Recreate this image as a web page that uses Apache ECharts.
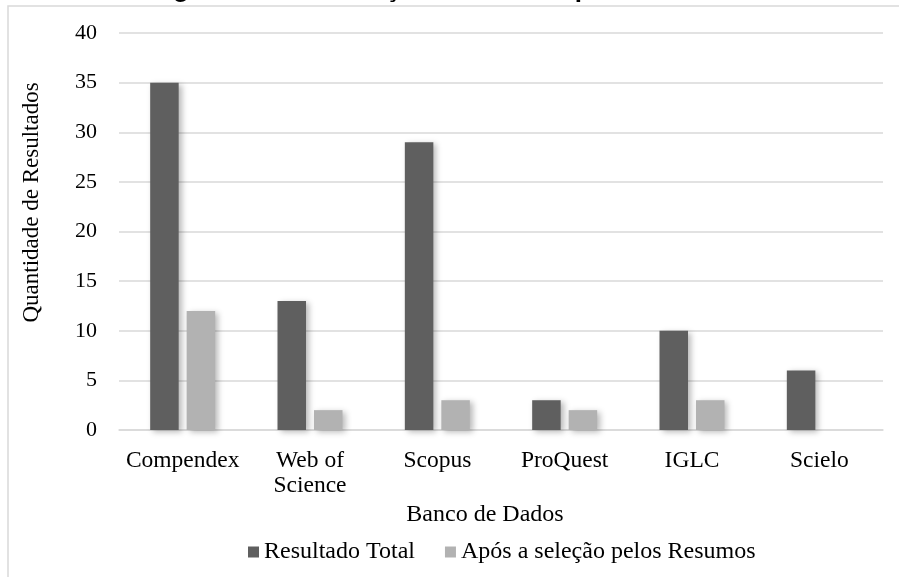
<!DOCTYPE html>
<html>
<head>
<meta charset="utf-8">
<script src="https://cdn.jsdelivr.net/npm/echarts@6/dist/echarts.min.js"></script>
<style>
  html, body { margin: 0; padding: 0; background: #fff; }
  #chart { width: 899px; height: 577px; }
</style>
</head>
<body>
<div id="chart"></div>
<script>
// Databases searched
const categories = ['Compendex', 'Web of\nScience', 'Scopus', 'ProQuest', 'IGLC', 'Scielo'];
// Number of results per database
const totalResults = [35, 13, 29, 3, 10, 6];
const afterAbstracts = [12, 2, 3, 2, 3, 0];
// Value axis ticks
const yMin = 0, yMax = 40, yStep = 5;

const serif = "'Liberation Serif', 'Times New Roman', serif";
const chart = echarts.init(document.getElementById('chart'));

const barShadow = {
  shadowColor: 'rgba(0,0,0,0.28)',
  shadowBlur: 6,
  shadowOffsetX: 3,
  shadowOffsetY: 2
};

chart.setOption({
  backgroundColor: '#ffffff',
  animation: false,
  graphic: [
    {
      type: 'rect',
      shape: { x: 8, y: 6, width: 900, height: 600 },
      style: { fill: 'none', stroke: '#d9d9d9', lineWidth: 1.5 },
      silent: true,
      z: 1
    },
    {
      type: 'text',
      x: 150,
      y: -10,
      style: {
        text: 'Figura 4 – Distribuição dos dados por Banco de Dados',
        font: "bold 26px 'Liberation Sans', Arial, sans-serif",
        fill: '#000',
        verticalAlign: 'middle'
      },
      silent: true,
      z: 2
    }
  ],
  grid: { left: 119, right: 16, top: 33, bottom: 147 },
  legend: {
    left: 243,
    top: 535,
    itemWidth: 11,
    itemHeight: 11,
    itemGap: 30,
    icon: 'rect',
    textStyle: { fontFamily: serif, fontSize: 24, color: '#000' }
  },
  xAxis: {
    type: 'category',
    data: categories,
    name: 'Banco de Dados',
    nameLocation: 'middle',
    nameGap: 68,
    nameTextStyle: { fontFamily: serif, fontSize: 24, color: '#000', padding: [0, 32, 0, 0] },
    axisLine: { lineStyle: { color: '#d9d9d9', width: 1.5 } },
    axisTick: { show: false },
    axisLabel: { interval: 0, fontFamily: serif, fontSize: 23.5, color: '#000', margin: 18, lineHeight: 25 }
  },
  yAxis: {
    type: 'value',
    min: yMin,
    max: yMax,
    interval: yStep,
    name: 'Quantidade de Resultados',
    nameLocation: 'middle',
    nameGap: 76,
    nameTextStyle: { fontFamily: serif, fontSize: 23, color: '#000', padding: [0, 0, 0, 58] },
    axisLine: { show: false },
    axisTick: { show: false },
    axisLabel: { fontFamily: serif, fontSize: 22, color: '#000', margin: 22 },
    splitLine: { lineStyle: { color: '#d9d9d9', width: 1.5 } }
  },
  series: [
    {
      name: 'Resultado Total',
      type: 'bar',
      data: totalResults,
      barWidth: 28.5,
      barGap: '28%',
      itemStyle: Object.assign({ color: '#5f5f5f' }, barShadow)
    },
    {
      name: 'Após a seleção pelos Resumos',
      type: 'bar',
      data: afterAbstracts,
      barWidth: 28.5,
      itemStyle: Object.assign({ color: '#b2b2b2' }, barShadow)
    }
  ]
});
</script>
</body>
</html>
